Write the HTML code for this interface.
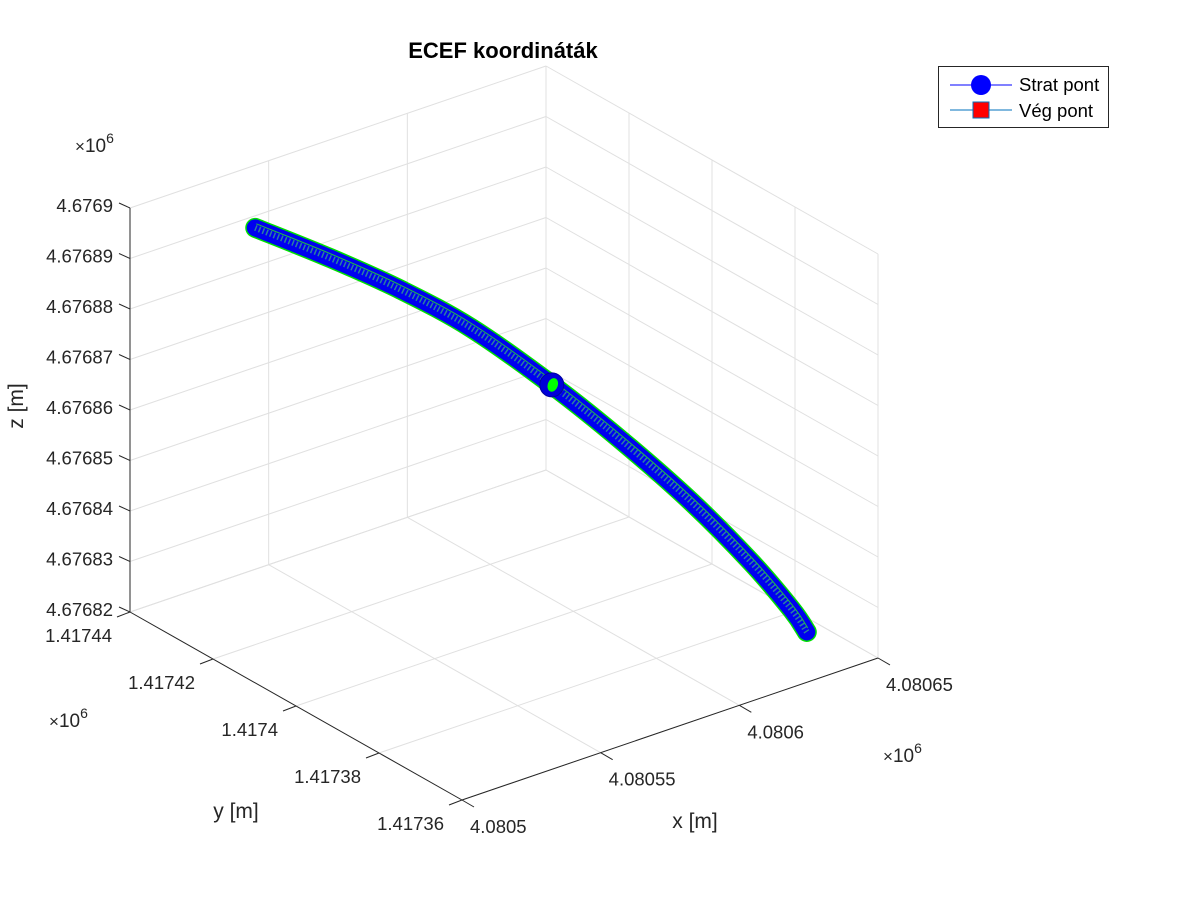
<!DOCTYPE html>
<html><head><meta charset="utf-8">
<style>
html,body{margin:0;padding:0;background:#fff;}
svg{display:block;font-family:"Liberation Sans",Arial,sans-serif;}
</style></head>
<body>
<svg id="chart" width="1200" height="900" viewBox="0 0 1200 900">
  <rect x="0" y="0" width="1200" height="900" fill="#fff"/>
  <g id="grid"></g>
  <g id="axes"></g>
  <g id="series"></g>
  <text x="503" y="58" text-anchor="middle" font-size="22" font-weight="bold" fill="#000">ECEF koordináták</text>
  <g>
    <rect x="938.5" y="66.5" width="170" height="61" fill="#fff" stroke="#262626" stroke-width="1"/>
    <g>
      <line x1="950" y1="85" x2="1012" y2="85" stroke="#0000ff" stroke-width="1"/>
      <circle cx="981" cy="85" r="10" fill="#0000ff"/>
      <text x="1019" y="91" font-size="18.5" fill="#000">Strat pont</text>
    </g>
    <g>
      <line x1="950" y1="110" x2="1012" y2="110" stroke="#0072bd" stroke-width="1"/>
      <rect x="973" y="102" width="16" height="16" fill="#ff0000" stroke="#0072bd" stroke-width="1"/>
      <text x="1019" y="117" font-size="18.5" fill="#000">Vég pont</text>
    </g>
  </g>
</svg>
<script>
// ---- data ----
const xTicks = [4080500, 4080550, 4080600, 4080650];
const xTickLabels = ["4.0805", "4.08055", "4.0806", "4.08065"];
const yTicks = [1417360, 1417380, 1417400, 1417420, 1417440];
const yTickLabels = ["1.41736", "1.41738", "1.4174", "1.41742", "1.41744"];
const zTicks = [4676820, 4676830, 4676840, 4676850, 4676860, 4676870, 4676880, 4676890, 4676900];
const zTickLabels = ["4.67682", "4.67683", "4.67684", "4.67685", "4.67686", "4.67687", "4.67688", "4.67689", "4.6769"];
const trackX = [4080525.1, 4080540.2, 4080554.3, 4080568.4, 4080584.6, 4080598.5, 4080612.6, 4080624.7, 4080632.7, 4080635.7];
const trackY = [1417426.6, 1417418.6, 1417411.0, 1417403.5, 1417394.9, 1417387.5, 1417379.9, 1417373.5, 1417369.2, 1417367.6];
const trackZ = [4676897.6, 4676892.5, 4676887.1, 4676880.4, 4676870.1, 4676860.0, 4676848.6, 4676837.3, 4676828.5, 4676824.3];
const markerIndex = [4];

// ---- projection ----
const X0 = 4080500, X1 = 4080650, Y0 = 1417360, Y1 = 1417440, Z0 = 4676820, Z1 = 4676900;
function proj(x, y, z) {
  const u = (x - X0) / (X1 - X0), v = (y - Y0) / (Y1 - Y0), w = (z - Z0) / (Z1 - Z0);
  return [462 + 416 * u - 332 * v, 800 - 142 * u - 188 * v - 404 * w];
}
const NS = "http://www.w3.org/2000/svg";
function mk(tag, attrs, parent) {
  const e = document.createElementNS(NS, tag);
  for (const k in attrs) e.setAttribute(k, attrs[k]);
  parent.appendChild(e);
  return e;
}
function seg(p, q, stroke, sw, parent) {
  return mk("line", {x1: p[0], y1: p[1], x2: q[0], y2: q[1], stroke: stroke, "stroke-width": sw}, parent);
}
const grid = document.getElementById("grid");
const axes = document.getElementById("axes");
const series = document.getElementById("series");
const gc = "#e0e0e0";

xTicks.forEach((t) => {
  let l = seg(proj(t, Y0, Z0), proj(t, Y1, Z0), gc, 1, grid);
  
  
  l = seg(proj(t, Y1, Z0), proj(t, Y1, Z1), gc, 1, grid);
  
  
});
yTicks.forEach((t) => {
  let l = seg(proj(X0, t, Z0), proj(X1, t, Z0), gc, 1, grid);
  
  
  l = seg(proj(X1, t, Z0), proj(X1, t, Z1), gc, 1, grid);
  
  
});
zTicks.forEach((t) => {
  let l = seg(proj(X0, Y1, t), proj(X1, Y1, t), gc, 1, grid);
  
  
  l = seg(proj(X1, Y1, t), proj(X1, Y0, t), gc, 1, grid);
  
  
});

const ac = "#262626";
let a = seg(proj(X0, Y0, Z0), proj(X1, Y0, Z0), ac, 1, axes);


a = seg(proj(X0, Y0, Z0), proj(X0, Y1, Z0), ac, 1, axes);


a = seg(proj(X0, Y1, Z0), proj(X0, Y1, Z1), ac, 1, axes);



function txt(x, y, s, anchor, parent, size) {
  const t = mk("text", {x: x, y: y, "text-anchor": anchor, "font-size": size || 18.5, fill: "#262626"}, parent);
  t.textContent = s;
  return t;
}
xTicks.forEach((t, i) => {
  const p = proj(t, Y0, Z0);
  let l = seg(p, [p[0] + 12, p[1] + 7], ac, 1, axes);
  
  
  const lb = txt(p[0] + 8, p[1] + 33, xTickLabels[i], "start", axes);
  
  
});
yTicks.forEach((t, i) => {
  const p = proj(X0, t, Z0);
  let l = seg(p, [p[0] - 13, p[1] + 5], ac, 1, axes);
  
  
  const lb = txt(p[0] - 18, p[1] + 30, yTickLabels[i], "end", axes);
  
  
});
zTicks.forEach((t, i) => {
  const p = proj(X0, Y1, t);
  let l = seg(p, [p[0] - 11, p[1] - 5], ac, 1, axes);
  
  
  const lb = txt(p[0] - 17, p[1] + 4, zTickLabels[i], "end", axes);
  
  
});
function expo(x, y, name) {
  const t = mk("text", {x: x, y: y, "font-size": 19, fill: "#262626"}, axes);
  t.innerHTML = '<tspan font-size="17">×</tspan>10<tspan dy="-9" font-size="14">6</tspan>';
  
  
}
expo(75, 152, 'z-exponent-label');
expo(49, 727, 'y-exponent-label');
expo(883, 762, 'x-exponent-label');
let al = txt(695, 828, "x [m]", "middle", axes, 21);


al = txt(236, 818, "y [m]", "middle", axes, 21);


al = txt(0, 0, "z [m]", "middle", axes, 21);
al.setAttribute('transform', 'translate(23,406) rotate(-90)');



const pts = trackX.map((x, i) => proj(x, trackY[i], trackZ[i]));
function smoothPath(p) {
  let d = "M" + p[0][0] + "," + p[0][1];
  for (let i = 0; i < p.length - 1; i++) {
    const p0 = p[Math.max(0, i - 1)], p1 = p[i], p2 = p[i + 1], p3 = p[Math.min(p.length - 1, i + 2)];
    const c1 = [p1[0] + (p2[0] - p0[0]) / 6, p1[1] + (p2[1] - p0[1]) / 6];
    const c2 = [p2[0] - (p3[0] - p1[0]) / 6, p2[1] - (p3[1] - p1[1]) / 6];
    d += " C" + c1[0] + "," + c1[1] + " " + c2[0] + "," + c2[1] + " " + p2[0] + "," + p2[1];
  }
  return d;
}
const d = smoothPath(pts);
let tp = mk("path", {d: d, fill: "none", stroke: "#00e000", "stroke-width": 20, "stroke-linecap": "round", "stroke-linejoin": "round"}, series);


tp = mk("path", {d: d, fill: "none", stroke: "#0000f0", "stroke-width": 17, "stroke-linecap": "round", "stroke-linejoin": "round"}, series);


tp = mk("path", {d: d, fill: "none", stroke: "#2a7fa0", "stroke-width": 6, "stroke-dasharray": "1.5 2.5"}, series);


tp = mk("path", {d: d, fill: "none", stroke: "#20c040", "stroke-width": 1, transform: "translate(1,-4)"}, series);



markerIndex.forEach((k) => {
  const p = pts[k];
  let m = mk("ellipse", {cx: p[0], cy: p[1], rx: 12, ry: 12, fill: "#0000d8", stroke: "#0000a0", "stroke-width": 1}, series);
  
  
  m = mk("ellipse", {cx: p[0] + 1, cy: p[1], rx: 5, ry: 7, fill: "#00ff00", transform: "rotate(20 " + (p[0] + 1) + " " + p[1] + ")"}, series);
  
  
});
</script>
</body></html>
